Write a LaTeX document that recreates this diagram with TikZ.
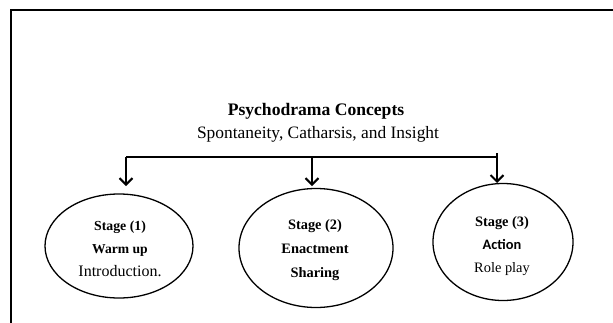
\documentclass[tikz,border=0pt]{standalone}
\usepackage{fontspec}
\setmainfont{Liberation Serif}
\newfontfamily\calfont{Carlito}
\usetikzlibrary{shapes.geometric,arrows.meta}
\begin{document}
\begin{tikzpicture}[x=1pt,y=-1pt,
  stagebox/.style={ellipse, draw, line width=1.3pt, inner sep=0pt},
  stagetext/.style={align=center, inner sep=0pt},
  arr/.style={line width=2pt, -{Straight Barb[length=6.5pt,width=13pt]}},
  bar/.style={line width=2.2pt},
  frame/.style={line width=2pt}]
\useasboundingbox (0,0) rectangle (613,322);
% frame
\coordinate (fbl) at (11,330);
\coordinate (ftl) at (11,10);
\coordinate (ftr) at (620,10);
\draw[frame] (fbl) -- (ftl) -- (ftr);
% titles
\node[font=\bfseries\fontsize{17.6}{21}\selectfont] (title) at (316,111) {Psychodrama Concepts};
\node[font=\fontsize{17.4}{21}\selectfont] (sub) at (318,134) {Spontaneity, Catharsis, and Insight};
% stages
\node[stagebox, minimum width=148pt, minimum height=104pt] (e1) at (119,246) {};
\node[stagebox, minimum width=154pt, minimum height=119pt] (e2) at (316,248) {};
\node[stagebox, minimum width=140pt, minimum height=117pt] (e3) at (503,242) {};
\node[stagetext, font=\fontsize{14}{23}\selectfont] (s1) at (120,249)
  {\textbf{\fontsize{13.8}{23}\selectfont Stage (1)}\\
   \textbf{\fontsize{13.6}{23}\selectfont Warm up}\\
   {\fontsize{16}{23}\selectfont Introduction.}};
\node[stagetext, font=\fontsize{14.4}{24}\selectfont] (s2) at (315,250)
  {\textbf{Stage (2)}\\ \textbf{Enactment}\\ \textbf{Sharing}};
\node[stagetext, font=\fontsize{14.4}{23}\selectfont] (s3) at (502,246.5)
  {\textbf{Stage (3)}\\ {\calfont\bfseries Action}\\ Role play};
% connectors
\coordinate (b1) at (126,157);
\coordinate (b2) at (312,157);
\coordinate (b3) at (497,157);
\coordinate (b3top) at (497,153);
\coordinate (t1) at (126,186);
\coordinate (t2) at (312,186);
\coordinate (t3) at (497,183);
\draw[bar] (b1) -- (b3);
\draw[arr] (b1) -- (t1);
\draw[arr] (b2) -- (t2);
\draw[arr] (b3top) -- (t3);
\end{tikzpicture}
\end{document}
